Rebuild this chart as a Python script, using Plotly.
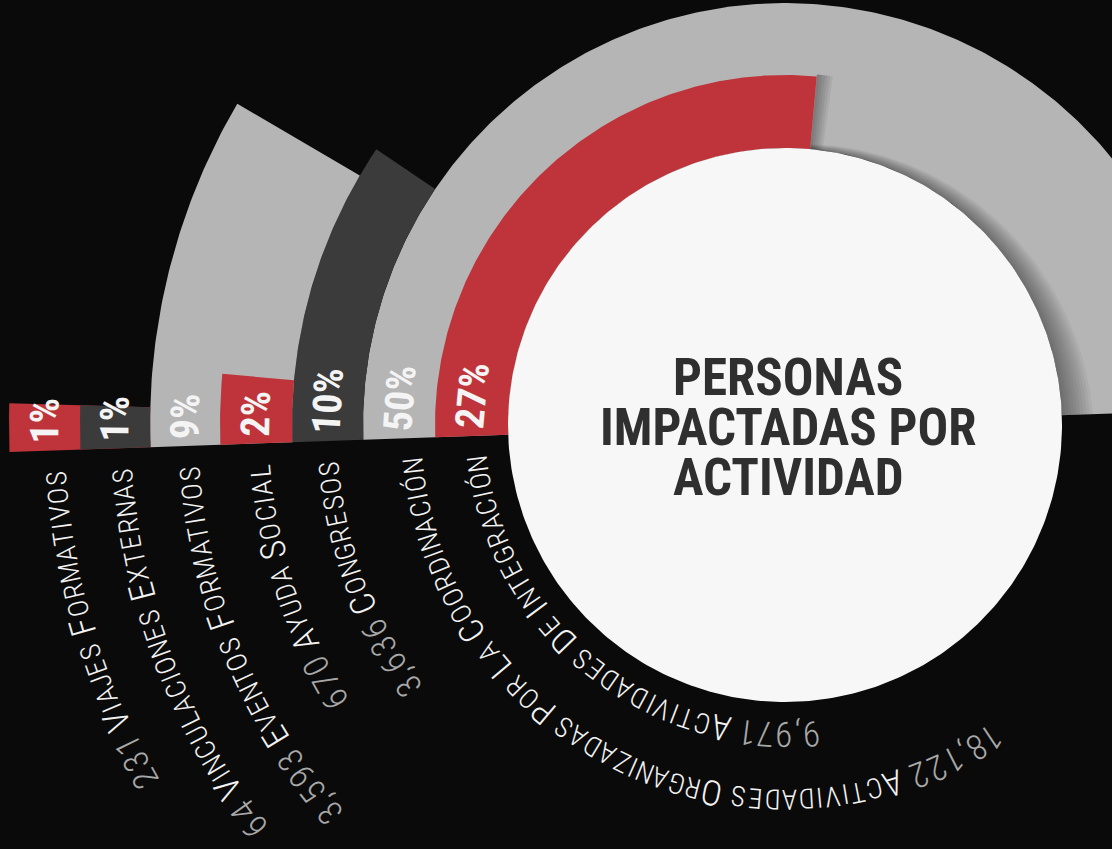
import numpy as np
import plotly.graph_objects as go

# ---------------- data ----------------
categories = ["Integración", "Coordinación", "Congresos", "Ayuda social",
              "Eventos formativos", "Vinculaciones externas", "Viajes formativos"]
label_words = ["Actividades De Integración",
               "Actividades Organizadas Por La Coordinación",
               "Congresos", "Ayuda Social", "Eventos Formativos",
               "Vinculaciones Externas", "Viajes Formativos"]
counts = [9971, 18122, 3636, 670, 3593, 64, 231]
percents = [27, 50, 10, 2, 9, 1, 1]
title_lines = ["PERSONAS", "IMPACTADAS POR", "ACTIVIDAD"]

# ---------------- style / geometry ----------------
W, H = 1112, 849
CX, CY = 785.0, 425.0
R_CORE = 277.0
PHI0 = 182.0          # start angle (deg, counter-clockwise from east)
DEG_PER_PCT = 3.6

RED, GRAY, DARK = "#bf343a", "#b5b5b5", "#3b3b3b"
BG, WHITE = "#0a0a0a", "#f7f7f7"
colors = [RED, GRAY, DARK, RED, GRAY, DARK, RED]
ring_in = [277, 350, 422, 493, 565, 635, 705]
ring_out = [350, 422, 493, 565, 635, 705, 776]
fill_in = [277, 277, 422, 493, 493, 635, 635]
draw_order = [1, 0, 2, 4, 3, 6, 5]
label_r = [309, 374, 458, 526, 597, 664, 730]

LABEL_FONT = "Roboto Condensed, DejaVu Sans Condensed, Roboto"
BIG, SMALL, TRACK = 35, 28, 1.1
NUM_COL, WORD_COL = "#a8a8a8", "#f2f2f2"


def wedge(r0, r1, a0, a1, n=None):
    if n is None:
        n = max(8, int(abs(a1 - a0) * 2))
    a = np.radians(np.linspace(a0, a1, n))
    xo = CX + r1 * np.cos(a)
    yo = CY - r1 * np.sin(a)
    xi = CX + r0 * np.cos(a[::-1])
    yi = CY - r0 * np.sin(a[::-1])
    return np.r_[xo, xi, xo[:1]], np.r_[yo, yi, yo[:1]]


def poly(x, y, color):
    return go.Scatter(x=x, y=y, mode="lines", fill="toself", fillcolor=color,
                      line=dict(width=0), hoverinfo="skip", showlegend=False)


fig = go.Figure()

# rings
for i in draw_order:
    span = percents[i] * DEG_PER_PCT
    x, y = wedge(fill_in[i], ring_out[i], PHI0, PHI0 - span)
    fig.add_trace(poly(x, y, colors[i]))
    if i == 1:
        # shadow of the white disc on the grey ring (right side)
        red_end = PHI0 - percents[0] * DEG_PER_PCT
        for s in range(1, 11):
            a = np.linspace(PHI0 - 180, red_end, 80)
            w = 32 * (1 - np.clip(a, 0, None) / 100) * s / 10
            ar = np.radians(a)
            xo = CX + (R_CORE + w) * np.cos(ar)
            yo = CY - (R_CORE + w) * np.sin(ar)
            xi = CX + (R_CORE - 5) * np.cos(ar[::-1])
            yi = CY - (R_CORE - 5) * np.sin(ar[::-1])
            fig.add_trace(poly(np.r_[xo, xi], np.r_[yo, yi], "rgba(0,0,0,0.042)"))
        # shadow of the red bar end
        for s in range(1, 7):
            d = np.degrees(2.4 * s / 315)
            x2, y2 = wedge(R_CORE, ring_out[0] + 2, red_end, red_end - d, 6)
            fig.add_trace(poly(x2, y2, "rgba(0,0,0,0.06)"))

# white disc
t = np.radians(np.linspace(0, 360, 361))
fig.add_trace(poly(CX + R_CORE * np.cos(t), CY - R_CORE * np.sin(t), WHITE))

ann = []
# title
for j, line in enumerate(title_lines):
    ann.append(dict(x=CX + 3, y=377 + 50 * j, xref="x", yref="y", text=line,
                    showarrow=False, xanchor="center", yanchor="middle",
                    height=46, borderpad=0,
                    font=dict(family="Roboto Condensed, Roboto",
                              size=51, color="#2f2f2f", weight=700)))

# percentage labels inside bars
PCT_SIZE = 40
for i in range(7):
    r = (ring_in[i] + ring_out[i]) / 2
    txt = f"{percents[i]}%"
    est = PCT_SIZE * (0.52 * (len(txt) - 1) + 0.72)
    phi = PHI0 - np.degrees((5 + est / 2) / r)
    pr = np.radians(phi)
    ann.append(dict(x=CX + r * np.cos(pr), y=CY - r * np.sin(pr), xref="x", yref="y",
                    text=txt, showarrow=False, textangle=90 - phi,
                    xanchor="center", yanchor="middle",
                    font=dict(family="Roboto Condensed, Roboto", size=PCT_SIZE,
                              color="#f4f4f4", weight=700)))


def cw(ch):
    if ch == " ":
        return 0.24
    if ch in ",.":
        return 0.2
    if ch == "I":
        return 0.27
    if ch == "J":
        return 0.45
    if ch in "MW":
        return 0.74
    if ch in "OQCGDÓ":
        return 0.6
    if ch == "1":
        return 0.45
    if ch.isdigit():
        return 0.52
    return 0.55


# curved labels
for i in range(7):
    r = label_r[i]
    chars = [(c, BIG, NUM_COL) for c in f"{counts[i]:,}"]
    chars.append((" ", SMALL, WORD_COL))
    for c in label_words[i]:
        if c == " ":
            chars.append((" ", SMALL, WORD_COL))
        elif c.isupper():
            chars.append((c, BIG, WORD_COL))
        else:
            chars.append((c.upper(), SMALL, WORD_COL))
    adv = [cw(c) * sz + TRACK for c, sz, _ in chars]
    total = sum(adv)
    phi_end = PHI0 + np.degrees(20 / r)
    cum = 0
    for (c, sz, col), a in zip(chars, adv):
        mid = cum + a / 2
        cum += a
        if c == " ":
            continue
        phi = phi_end + np.degrees((total - mid) / r)
        pr = np.radians(phi)
        ann.append(dict(x=CX + r * np.cos(pr), y=CY - r * np.sin(pr), xref="x", yref="y",
                        text=c, showarrow=False, textangle=90 - phi,
                        xanchor="center", yanchor="middle",
                        font=dict(family=LABEL_FONT, size=sz, color=col, weight=300)))

fig.update_layout(
    width=W, height=H, margin=dict(l=0, r=0, t=0, b=0),
    paper_bgcolor=BG, plot_bgcolor=BG,
    xaxis=dict(range=[0, W], visible=False, fixedrange=True),
    yaxis=dict(range=[H, 0], visible=False, fixedrange=True),
    annotations=ann,
)
fig.write_html(
    "out.html",
    config={"displayModeBar": False},
    post_script="document.body.style.margin='0px';"
                "document.body.style.overflow='hidden';"
                "document.body.style.background='#0a0a0a';",
)
